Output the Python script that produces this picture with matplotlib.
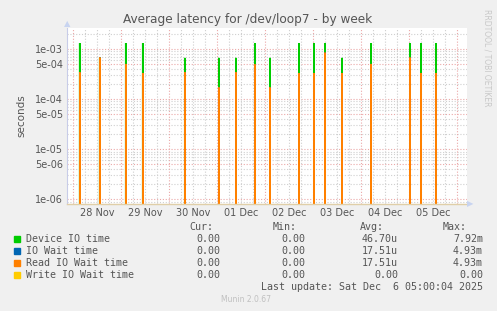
import numpy as np
import pandas as pd
import matplotlib
matplotlib.use("Agg")
import matplotlib.pyplot as plt

# spikes (30 min samples)
spike_times = ["2025-11-28 03:30", "2025-11-28 13:30", "2025-11-29 02:30", "2025-11-29 11:00",
               "2025-11-30 08:00", "2025-12-01 01:00", "2025-12-01 09:30", "2025-12-01 19:00",
               "2025-12-02 02:30", "2025-12-02 17:00", "2025-12-03 00:30", "2025-12-03 06:00",
               "2025-12-03 14:30", "2025-12-04 05:00", "2025-12-05 00:30", "2025-12-05 06:00",
               "2025-12-05 13:30"]
device_peaks = [1.3e-3, 6.7e-4, 1.3e-3, 1.3e-3, 6.6e-4, 6.6e-4, 6.6e-4, 1.3e-3, 6.6e-4,
                1.3e-3, 1.3e-3, 1.3e-3, 6.6e-4, 1.3e-3, 1.3e-3, 1.3e-3, 1.3e-3]
read_peaks = [3.4e-4, 6.7e-4, 5.0e-4, 3.3e-4, 3.4e-4, 1.7e-4, 3.4e-4, 4.9e-4, 1.7e-4,
              3.3e-4, 3.3e-4, 8.4e-4, 3.3e-4, 5.0e-4, 6.7e-4, 3.3e-4, 3.3e-4]
iowait_peaks = read_peaks

series_names = ["Device IO time", "IO Wait time", "Read IO Wait time", "Write IO Wait time"]
colors = ["#00CC00", "#0066B3", "#FF8000", "#FFCC00"]
cur = ["0.00", "0.00", "0.00", "0.00"]
mins = ["0.00", "0.00", "0.00", "0.00"]
avgs = ["46.70u", "17.51u", "17.51u", "0.00"]
maxs = ["7.92m", "4.93m", "4.93m", "0.00"]

start = pd.Timestamp("2025-11-27 21:05")
end = pd.Timestamp("2025-12-06 05:00")
times = pd.date_range("2025-11-27 21:00", "2025-12-06 05:00", freq="30min")

def build(peaks):
    s = pd.Series(0.0, index=times)
    for t, v in zip(spike_times, peaks):
        s[pd.Timestamp(t)] = v
    return s.values

device = build(device_peaks)
iowait = build(iowait_peaks)
read = build(read_peaks)
write = np.zeros(len(times))

W, H = 497, 311
fig = plt.figure(figsize=(W / 100, H / 100), dpi=100, facecolor="#F0F0F0")
ax = fig.add_axes([67 / W, 1 - 203.5 / H, 400 / W, 175.5 / H])
ax.set_facecolor("white")
ax.set_yscale("log", nonpositive="clip")

widths = [1.3, 1.1, 1.1, 1.0]
for vals, c, w in zip([device, iowait, read, write], colors, widths):
    ax.plot(times, vals, color=c, lw=w, solid_joinstyle="miter")

ax.set_xlim(start, end)
ax.set_ylim(8.3e-7, 2.6e-3)

# grid
major_y = [1e-6, 5e-6, 1e-5, 5e-5, 1e-4, 5e-4, 1e-3]
minor_y = [m * 10.0 ** e for e in range(-7, -2) for m in (2, 3, 4, 6, 7, 8, 9)]
dots = (0, (1, 1.6))
for y in minor_y:
    ax.axhline(y, color="#cfcfcf", lw=0.8, ls=dots, zorder=0)
for y in major_y:
    ax.axhline(y, color="#eba8a8", lw=0.8, ls=dots, zorder=0)
hours6 = pd.date_range("2025-11-28 00:00", "2025-12-06 00:00", freq="6h")
for t in hours6:
    if t.hour == 0:
        ax.axvline(t, color="#eba8a8", lw=0.8, ls=dots, zorder=0)
    else:
        ax.axvline(t, color="#cfcfcf", lw=0.8, ls=dots, zorder=0)

ax.set_yticks(major_y)
ax.set_yticklabels(["1e-06", "5e-06", "1e-05", "5e-05", "1e-04", "5e-04", "1e-03"])
ax.yaxis.set_minor_locator(matplotlib.ticker.NullLocator())
noons = pd.date_range("2025-11-28 12:00", "2025-12-05 12:00", freq="1D")
ax.set_xticks(noons)
ax.set_xticklabels([t.strftime("%d %b") for t in noons])
ax.tick_params(axis="both", length=0, labelsize=7, colors="#555555", pad=3)

for s in ["top", "right"]:
    ax.spines[s].set_visible(False)
ax.spines["left"].set_color("#c8cce8")
ax.spines["bottom"].set_color("#e0cfa8")
ax.spines["left"].set_linewidth(0.8)
ax.spines["bottom"].set_linewidth(1.0)
# axis arrows
fig.text(470 / W, 1 - 203.5 / H, "\u25b6", color="#c8d4f0", fontsize=6, ha="center", va="center")
fig.text(67 / W, 1 - 24 / H, "\u25b2", color="#c8d4f0", fontsize=6, ha="center", va="center")

ax.set_ylabel("seconds", fontsize=7.5, color="#555555", labelpad=6)
fig.text(248 / W, 1 - 19 / H, "Average latency for /dev/loop7 - by week", ha="center", va="center",
         fontsize=8.7, color="#555555")
fig.text(487 / W, 1 - 58 / H, "RRDTOOL / TOBI OETIKER", rotation=270, ha="center", va="center",
         fontsize=5.5, color="#c8c8c8")

# legend table
mono = dict(family="DejaVu Sans Mono", fontsize=7.2, color="#555555")
fig.text(213 / W, 1 - 227 / H, "Cur:", ha="right", va="center", **mono)
fig.text(297 / W, 1 - 227 / H, "Min:", ha="right", va="center", **mono)
fig.text(384 / W, 1 - 227 / H, "Avg:", ha="right", va="center", **mono)
fig.text(467 / W, 1 - 227 / H, "Max:", ha="right", va="center", **mono)
for i in range(4):
    y = 1 - (239 + 12 * i) / H
    fig.patches.append(plt.Rectangle((14 / W, y - 3 / H), 6 / W, 6 / H, color=colors[i],
                                     transform=fig.transFigure, figure=fig))
    fig.text(26 / W, y, series_names[i], ha="left", va="center", **mono)
    fig.text(220 / W, y, cur[i], ha="right", va="center", **mono)
    fig.text(305 / W, y, mins[i], ha="right", va="center", **mono)
    fig.text(398 / W, y, avgs[i], ha="right", va="center", **mono)
    fig.text(483 / W, y, maxs[i], ha="right", va="center", **mono)
fig.text(483 / W, 1 - 287 / H, "Last update: Sat Dec  6 05:00:04 2025", ha="right", va="center", **mono)
fig.text(246 / W, 1 - 299 / H, "Munin 2.0.67", ha="center", va="center", fontsize=5.5, color="#c0c0c0")

fig.savefig("out.png", dpi=100, facecolor=fig.get_facecolor())
